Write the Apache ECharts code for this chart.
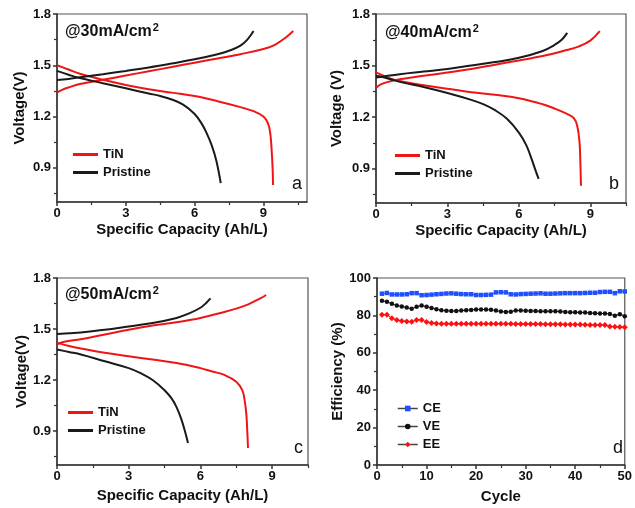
<!DOCTYPE html>
<html><head><meta charset="utf-8">
<script src="https://cdn.jsdelivr.net/npm/echarts@6/dist/echarts.min.js"></script>
<style>html,body{margin:0;padding:0;background:#fff}#c{width:635px;height:508px}</style>
</head><body><div id="c"></div>
<script>
// ---------- data ----------
// Panel a (@30mA/cm2)
const aTiNCharge = [[0,1.34],[0.2,1.355],[0.5,1.37],[1,1.39],[2,1.415],[3,1.44],[4,1.465],[5,1.49],[6,1.515],[7,1.54],[8,1.565],[9,1.595],[9.5,1.62],[10,1.665],[10.3,1.70]];
const aTiNDischarge = [[0,1.50],[0.5,1.475],[1,1.45],[2,1.415],[3,1.385],[4,1.36],[5,1.34],[6,1.32],[7,1.29],[8,1.255],[8.6,1.23],[9,1.20],[9.2,1.16],[9.3,1.10],[9.36,1.0],[9.4,0.90],[9.42,0.80]];
const aPristineCharge = [[0,1.414],[0.5,1.42],[1,1.43],[2,1.448],[3,1.467],[4,1.487],[5,1.51],[6,1.535],[7,1.565],[7.5,1.585],[8,1.615],[8.3,1.65],[8.57,1.70]];
const aPristineDischarge = [[0,1.467],[0.5,1.445],[1,1.425],[2,1.395],[3,1.365],[4,1.335],[4.5,1.32],[5,1.30],[5.5,1.27],[6,1.215],[6.3,1.16],[6.5,1.11],[6.75,1.03],[6.95,0.94],[7.14,0.81]];
// Panel b (@40mA/cm2)
const bTiNCharge = [[0,1.37],[0.2,1.39],[0.5,1.405],[1,1.42],[2,1.44],[3,1.46],[4,1.48],[5,1.505],[6,1.53],[7,1.555],[8,1.59],[8.5,1.61],[9,1.645],[9.4,1.70]];
const bTiNDischarge = [[0,1.46],[0.5,1.43],[1,1.41],[2,1.385],[3,1.365],[4,1.345],[5,1.33],[6,1.31],[7,1.275],[7.5,1.25],[8,1.22],[8.3,1.195],[8.45,1.15],[8.55,1.05],[8.58,0.95],[8.61,0.80]];
const bPristineCharge = [[0,1.43],[0.5,1.44],[1,1.45],[2,1.465],[3,1.48],[4,1.50],[5,1.52],[6,1.545],[7,1.585],[7.5,1.62],[7.8,1.65],[8.03,1.69]];
const bPristineDischarge = [[0,1.44],[0.5,1.425],[1,1.405],[2,1.375],[3,1.34],[4,1.30],[4.5,1.275],[5,1.24],[5.5,1.19],[6,1.11],[6.3,1.04],[6.5,0.97],[6.7,0.89],[6.83,0.84]];
// Panel c (@50mA/cm2)
const cTiNCharge = [[0,1.41],[0.3,1.425],[1,1.44],[2,1.468],[3,1.496],[4,1.52],[5,1.54],[6,1.565],[7,1.60],[7.5,1.62],[8,1.645],[8.5,1.68],[8.75,1.70]];
const cTiNDischarge = [[0,1.42],[0.5,1.40],[1,1.385],[2,1.36],[3,1.34],[4,1.32],[5,1.30],[6,1.27],[6.5,1.25],[7,1.23],[7.5,1.19],[7.75,1.14],[7.85,1.08],[7.92,1.0],[7.96,0.90],[7.99,0.80]];
const cPristineCharge = [[0,1.47],[0.5,1.475],[1,1.48],[2,1.495],[3,1.515],[4,1.535],[5,1.565],[5.5,1.59],[6,1.625],[6.25,1.655],[6.42,1.68]];
const cPristineDischarge = [[0,1.38],[0.5,1.365],[1,1.35],[2,1.31],[3,1.27],[3.5,1.24],[4,1.20],[4.5,1.14],[4.8,1.09],[5.0,1.04],[5.2,0.97],[5.35,0.90],[5.48,0.83]];
// Panel d (efficiency vs cycle)
const cycles = [1,2,3,4,5,6,7,8,9,10,11,12,13,14,15,16,17,18,19,20,21,22,23,24,25,26,27,28,29,30,31,32,33,34,35,36,37,38,39,40,41,42,43,44,45,46,47,48,49,50];
const CE = [91.6,92.0,91.2,91.2,91.2,91.3,91.9,91.9,90.8,90.9,91.1,91.3,91.5,91.7,91.8,91.6,91.4,91.3,91.3,90.9,90.9,91.0,91.1,92.3,92.4,92.3,91.3,91.2,91.4,91.5,91.6,91.7,91.8,91.6,91.6,91.7,91.8,91.9,91.9,91.9,91.9,92.0,92.1,92.1,92.5,92.6,92.6,91.9,92.9,92.8];
const VE = [87.8,87.3,86.2,85.3,84.8,84.2,83.5,84.6,85.3,84.6,84.0,83.3,82.8,82.5,82.3,82.4,82.6,82.8,82.9,83.1,83.2,83.1,83.0,82.6,82.1,81.8,82.0,82.6,82.6,82.5,82.4,82.3,82.2,82.2,82.2,82.2,82.1,81.8,81.7,81.7,81.6,81.5,81.3,81.2,81.0,81.0,80.8,79.8,80.6,79.6];
const EE = [80.3,80.3,78.5,77.5,77.0,76.8,76.6,77.6,77.6,76.5,76.0,75.7,75.6,75.5,75.5,75.5,75.5,75.5,75.5,75.6,75.6,75.6,75.6,75.6,75.6,75.5,75.5,75.4,75.4,75.4,75.4,75.4,75.4,75.3,75.3,75.3,75.3,75.2,75.2,75.1,75.1,75.0,74.9,74.9,74.8,74.8,74.1,73.9,73.8,73.7];
// tick labels
const capTicks = [0,3,6,9];
const capMinor = [1.5,4.5,7.5,10.5];
const voltTicks = [0.9,1.2,1.5,1.8];
const voltMinor = [0.75,1.05,1.35,1.65];
const panelCurrents = ['30','40','50'];
const panelLetters = ['a','b','c','d'];

// ---------- layout ----------
const FONT = '"Liberation Sans", Arial, sans-serif';
const grids = [
  {left:57, top:14, width:250, height:188},
  {left:376, top:14, width:250, height:189},
  {left:57, top:278, width:251, height:187},
  {left:377, top:278, width:251, height:187}
];
const capMax = [10.9, 10.5, 10.5];
const yNames = ['Voltage(V)','Voltage (V)','Voltage(V)'];
const yNameGaps = [30, 32, 28];
const xNameGaps = [20, 20, 23];
const AX = '#333';
const lbl = {color:'#111', fontWeight:'bold', fontSize:13, fontFamily:FONT};
const nameStyle = {color:'#111', fontWeight:'bold', fontSize:15, fontFamily:FONT};

const option = {animation:false, backgroundColor:'#fff', grid:[], xAxis:[], yAxis:[], series:[], legend:[], title:[]};
grids.forEach(g => option.grid.push(Object.assign({show:true, borderColor:'#555', borderWidth:1.2, backgroundColor:'transparent'}, g)));

const curveSets = [
  [aTiNCharge, aTiNDischarge, aPristineCharge, aPristineDischarge],
  [bTiNCharge, bTiNDischarge, bPristineCharge, bPristineDischarge],
  [cTiNCharge, cTiNDischarge, cPristineCharge, cPristineDischarge]
];
const legendPos = [{left:73, top:147}, {left:395, top:148}, {left:68, top:405}];
const titlePos = [{left:65, top:22}, {left:385, top:23}, {left:65, top:285}];
const letterPos = [{left:292, top:175}, {left:609, top:175}, {left:294, top:439}, {left:613, top:439}];

for (let i = 0; i < 3; i++) {
  const xi = option.xAxis.length, yi = option.yAxis.length;
  option.xAxis.push({type:'value', gridIndex:i, position:'bottom', min:0, max:capMax[i],
    name:'Specific Capacity (Ah/L)', nameLocation:'middle', nameGap:xNameGaps[i], nameTextStyle:nameStyle,
    axisLine:{show:true, onZero:false, lineStyle:{color:AX, width:1.5}},
    axisTick:{show:true, customValues:capTicks, length:4, lineStyle:{color:AX, width:1.5}},
    axisLabel:Object.assign({customValues:capTicks, margin:5}, lbl),
    splitLine:{show:false}});
  option.xAxis.push({type:'value', gridIndex:i, position:'bottom', min:0, max:capMax[i],
    axisLine:{show:false, onZero:false}, axisLabel:{show:false}, splitLine:{show:false},
    axisTick:{show:true, customValues:capMinor, length:3, lineStyle:{color:AX, width:1.2}}});
  option.yAxis.push({type:'value', gridIndex:i, position:'left', min:0.7, max:1.8,
    name:yNames[i], nameLocation:'middle', nameGap:yNameGaps[i], nameTextStyle:nameStyle,
    axisLine:{show:true, onZero:false, lineStyle:{color:AX, width:1.5}},
    axisTick:{show:true, customValues:voltTicks, length:4, lineStyle:{color:AX, width:1.5}},
    axisLabel:Object.assign({customValues:voltTicks, margin:6, formatter:v=>v.toFixed(1)}, lbl),
    splitLine:{show:false}});
  option.yAxis.push({type:'value', gridIndex:i, position:'left', min:0.7, max:1.8,
    axisLine:{show:false, onZero:false}, axisLabel:{show:false}, splitLine:{show:false},
    axisTick:{show:true, customValues:voltMinor, length:3, lineStyle:{color:AX, width:1.2}}});
  const sets = curveSets[i];
  const names = ['TiN','TiN','Pristine','Pristine'];
  const colors = ['#f01515','#f01515','#1a1a1a','#1a1a1a'];
  sets.forEach((d, k) => option.series.push({type:'line', name:names[k], xAxisIndex:xi, yAxisIndex:yi,
    data:d, symbol:'none', smooth:0.4, lineStyle:{color:colors[k], width:2}, itemStyle:{color:colors[k]}, z:3}));
  option.legend.push(Object.assign({orient:'vertical', padding:0, itemWidth:25, itemHeight:3, itemGap:3,
    selectedMode:false, icon:'rect',
    data:[{name:'TiN', itemStyle:{color:'#f01515'}}, {name:'Pristine', itemStyle:{color:'#1a1a1a'}}],
    textStyle:{color:'#111', fontWeight:'bold', fontSize:13, fontFamily:FONT, lineHeight:15}}, legendPos[i]));
  option.title.push(Object.assign({text:'{m|@' + panelCurrents[i] + 'mA/cm}{s|2}', padding:0,
    textStyle:{rich:{
      m:{color:'#111', fontWeight:'bold', fontSize:16, fontFamily:FONT, lineHeight:18, verticalAlign:'bottom'},
      s:{color:'#111', fontWeight:'bold', fontSize:11, fontFamily:FONT, lineHeight:18, verticalAlign:'top', padding:[0,0,0,1]}}}}, titlePos[i]));
}

// Panel d
{
  const xi = option.xAxis.length, yi = option.yAxis.length;
  option.xAxis.push({type:'value', gridIndex:3, position:'bottom', min:0, max:50, interval:10,
    name:'Cycle', nameLocation:'middle', nameGap:24, nameTextStyle:nameStyle,
    axisLine:{show:true, onZero:false, lineStyle:{color:AX, width:1.5}},
    axisTick:{show:true, length:4, lineStyle:{color:AX, width:1.5}},
    minorTick:{show:true, splitNumber:2, length:3, lineStyle:{color:AX, width:1.2}},
    axisLabel:Object.assign({margin:5}, lbl), splitLine:{show:false}});
  option.yAxis.push({type:'value', gridIndex:3, position:'left', min:0, max:100, interval:20,
    name:'Efficiency (%)', nameLocation:'middle', nameGap:28, nameTextStyle:nameStyle,
    axisLine:{show:true, onZero:false, lineStyle:{color:AX, width:1.5}},
    axisTick:{show:true, length:4, lineStyle:{color:AX, width:1.5}},
    minorTick:{show:true, splitNumber:2, length:3, lineStyle:{color:AX, width:1.2}},
    axisLabel:Object.assign({margin:6}, lbl), splitLine:{show:false}});
  const eff = [['CE', CE, '#1f4fff', 'rect', 4.5], ['VE', VE, '#111111', 'circle', 4.5], ['EE', EE, '#ff1010', 'diamond', 6]];
  eff.forEach(([n, vals, col, sym, sz]) => option.series.push({type:'line', name:n, xAxisIndex:xi, yAxisIndex:yi,
    data:cycles.map((c, j) => [c, vals[j]]), symbol:sym, symbolSize:sz, showSymbol:true,
    lineStyle:{color:col, width:1}, itemStyle:{color:col}, z:3}));
  option.legend.push({orient:'vertical', left:397, top:401, padding:0, itemWidth:20, itemHeight:7, itemGap:3,
    selectedMode:false,
    data:[{name:'CE', lineStyle:{color:'#444', width:1.5}}, {name:'VE', lineStyle:{color:'#444', width:1.5}}, {name:'EE', lineStyle:{color:'#444', width:1.5}}],
    textStyle:{color:'#111', fontWeight:'bold', fontSize:13, fontFamily:FONT, lineHeight:15}});
}
panelLetters.forEach((t, i) => option.title.push(Object.assign({text:t, padding:0,
  textStyle:{color:'#111', fontWeight:'normal', fontSize:18, fontFamily:FONT}}, letterPos[i])));

const chart = echarts.init(document.getElementById('c'), null, {renderer:'canvas'});
chart.setOption(option);
</script>
</body></html>
